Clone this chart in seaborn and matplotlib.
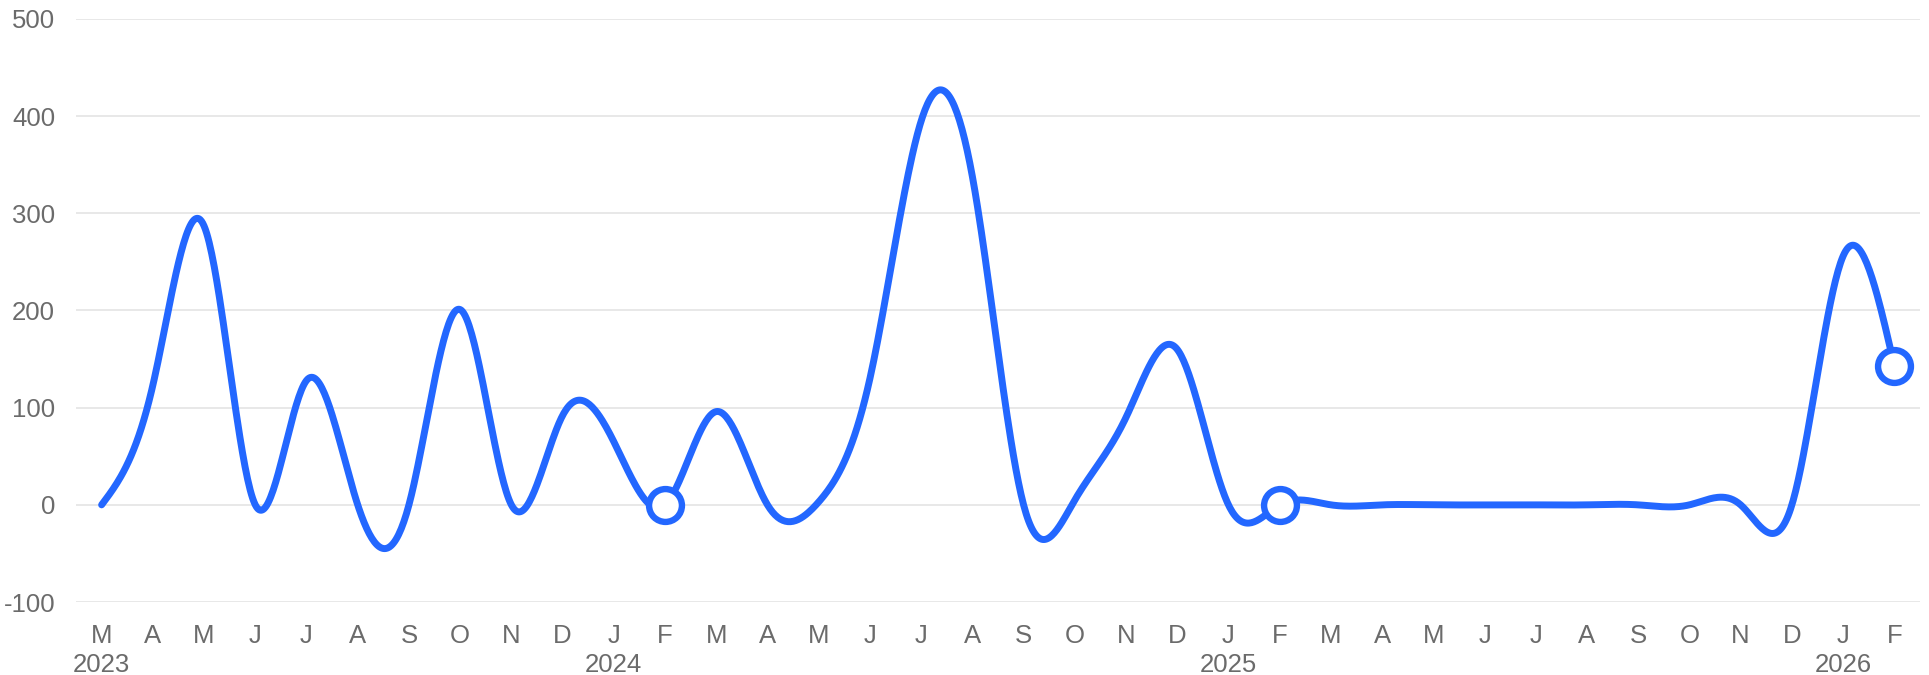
import numpy as np
import pandas as pd
import matplotlib
matplotlib.use("Agg")
import matplotlib.pyplot as plt
import seaborn as sns

# Monthly series, March 2023 .. February 2026
month_letters = ["M", "A", "M", "J", "J", "A", "S", "O", "N", "D", "J", "F",
                 "M", "A", "M", "J", "J", "A", "S", "O", "N", "D", "J", "F",
                 "M", "A", "M", "J", "J", "A", "S", "O", "N", "D", "J", "F"]
year_labels = {0: "2023", 10: "2024", 22: "2025", 34: "2026"}
values = [0, 123, 287, 0, 128, 0, 0, 201, 0, 92, 65, 0,
          96, 0, 3, 130, 395, 338, 0, 5, 90, 160, 0, 0,
          0, 0, 0, 0, 0, 0, 0, 0, 0, 0, 256, 143]
highlight_idx = [11, 23, 35]

y_ticks = [-100, 0, 100, 200, 300, 400, 500]

BLUE = "#2367ff"
GRID = "#e6e6e6"
TEXT = "#6b6b6b"


def natural_spline(y, samples=40):
    """Natural cubic spline through equally spaced points."""
    y = np.asarray(y, dtype=float)
    n = len(y)
    A = np.zeros((n, n))
    b = np.zeros(n)
    A[0, 0] = 1.0
    A[-1, -1] = 1.0
    for i in range(1, n - 1):
        A[i, i - 1] = 1.0
        A[i, i] = 4.0
        A[i, i + 1] = 1.0
        b[i] = 6.0 * (y[i + 1] - 2.0 * y[i] + y[i - 1])
    m = np.linalg.solve(A, b)
    xs, ys = [], []
    for i in range(n - 1):
        t = np.linspace(0.0, 1.0, samples, endpoint=(i == n - 2))
        u = 1.0 - t
        seg = (y[i] * u + y[i + 1] * t
               + (u ** 3 - u) * m[i] / 6.0
               + (t ** 3 - t) * m[i + 1] / 6.0)
        xs.append(i + t)
        ys.append(seg)
    return np.concatenate(xs), np.concatenate(ys)


xs, ys = natural_spline(values)
curve = pd.DataFrame({"month": xs, "value": ys})
points = pd.DataFrame({"month": highlight_idx,
                       "value": [values[i] for i in highlight_idx]})

sns.set_theme(style="white")
plt.rcParams["font.family"] = ["Liberation Sans", "DejaVu Sans"]

fig = plt.figure(figsize=(19.29, 6.75), dpi=100)
ax = fig.add_axes([0.0394, 0.1081, 0.9559, 0.8638])

sns.lineplot(data=curve, x="month", y="value", ax=ax, color=BLUE,
             linewidth=5.0, estimator=None, sort=False, zorder=3)
sns.scatterplot(data=points, x="month", y="value", ax=ax, s=560,
                facecolor="white", edgecolor=BLUE, linewidth=4.6,
                zorder=4, clip_on=False)

ax.set_xlim(-0.5, len(values) - 0.5)
ax.set_ylim(-100, 500)
ax.set_yticks(y_ticks)
ax.set_yticklabels([str(v) for v in y_ticks])
ax.set_xticks(range(len(values)))
ax.set_xticklabels([m + ("\n" + year_labels[i] if i in year_labels else "")
                    for i, m in enumerate(month_letters)])

ax.grid(axis="y", color=GRID, linewidth=1.3)
ax.grid(axis="x", visible=False)
ax.set_axisbelow(True)
for s in ax.spines.values():
    s.set_visible(False)
ax.tick_params(axis="y", length=0, pad=15, labelsize=18.5, labelcolor=TEXT)
ax.tick_params(axis="x", length=0, pad=16, labelsize=18.5, labelcolor=TEXT)
for lbl in ax.get_xticklabels():
    lbl.set_linespacing(1.25)
ax.set_xlabel("")
ax.set_ylabel("")

fig.savefig("out.png", dpi=100, facecolor="white")
